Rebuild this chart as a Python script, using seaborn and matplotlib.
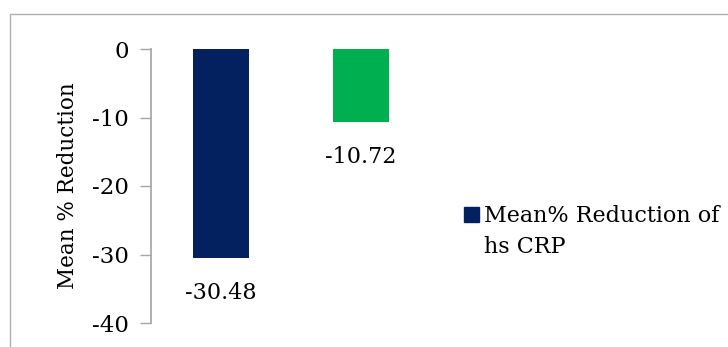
import matplotlib
matplotlib.use("Agg")
import matplotlib.pyplot as plt
import seaborn as sns
import pandas as pd
from matplotlib.patches import Patch, Rectangle

categories = ["Group 1", "Group 2"]
values = [-30.48, -10.72]
value_labels = ["-30.48", "-10.72"]
colors = ["#03215E", "#00B050"]
yticks = [0, -10, -20, -30, -40]
legend_line1 = "Mean% Reduction of"
legend_line2 = "hs CRP"
ylabel = "Mean % Reduction"

sns.set_theme(style="white")
plt.rcParams['font.family'] = ['DejaVu Serif']
plt.rcParams['text.color'] = 'black'
plt.rcParams['axes.labelcolor'] = 'black'

fig = plt.figure(figsize=(7.28, 3.47), dpi=100)
W, H = 728, 347
ax = fig.add_axes([151 / W, 1 - 323 / H, 280 / W, (323 - 49) / H])

df = pd.DataFrame({"cat": categories, "val": values})
sns.barplot(data=df, x="cat", y="val", hue="cat", palette=colors, width=0.4,
            ax=ax, legend=False, saturation=1, linewidth=0)
ax.set_xlim(-0.5, 1.5)
ax.set_ylim(-40, 0)
ax.set_yticks(yticks)
ax.set_yticklabels([str(t) for t in yticks], fontsize=16.5)
ax.set_xticks([])
ax.set_xlabel("")
ax.set_ylabel(ylabel, fontsize=15.5, labelpad=9, color="black")
for s in ["top", "right", "bottom"]:
    ax.spines[s].set_visible(False)
ax.spines["left"].set_color("#A6A6A6")
ax.tick_params(axis="y", direction="out", length=8, color="#A6A6A6", width=1,
               pad=8, left=True, labelcolor="black")

for i, (v, lab) in enumerate(zip(values, value_labels)):
    ax.annotate(lab, (i, v), xytext=(0, -25), textcoords="offset points",
                ha="center", va="center", fontsize=16, color="black")

handles = [Patch(facecolor=colors[0], edgecolor=colors[0])]
leg = fig.legend(handles, [legend_line1], loc="center left",
                 bbox_to_anchor=(464 / W, 1 - 216 / H), frameon=False,
                 fontsize=16, handlelength=0.68, handleheight=0.68,
                 handletextpad=0.22, borderaxespad=0, borderpad=0)
for t in leg.get_texts():
    t.set_color("black")

fig.canvas.draw()
t0 = leg.get_texts()[0]
bb = t0.get_window_extent()
x_text = bb.x0 / W
fig.text(x_text, (bb.y0 + bb.y1) / 2 / H - 31 / H, legend_line2, fontsize=16,
         color="black", ha="left", va="center")

fig.patches.append(Rectangle((10 / W, -0.1), 1.2, 1 - 14 / H + 0.1,
                             transform=fig.transFigure, fill=False,
                             edgecolor="#B0B0B0", linewidth=1))

fig.savefig("out.png", dpi=100)
